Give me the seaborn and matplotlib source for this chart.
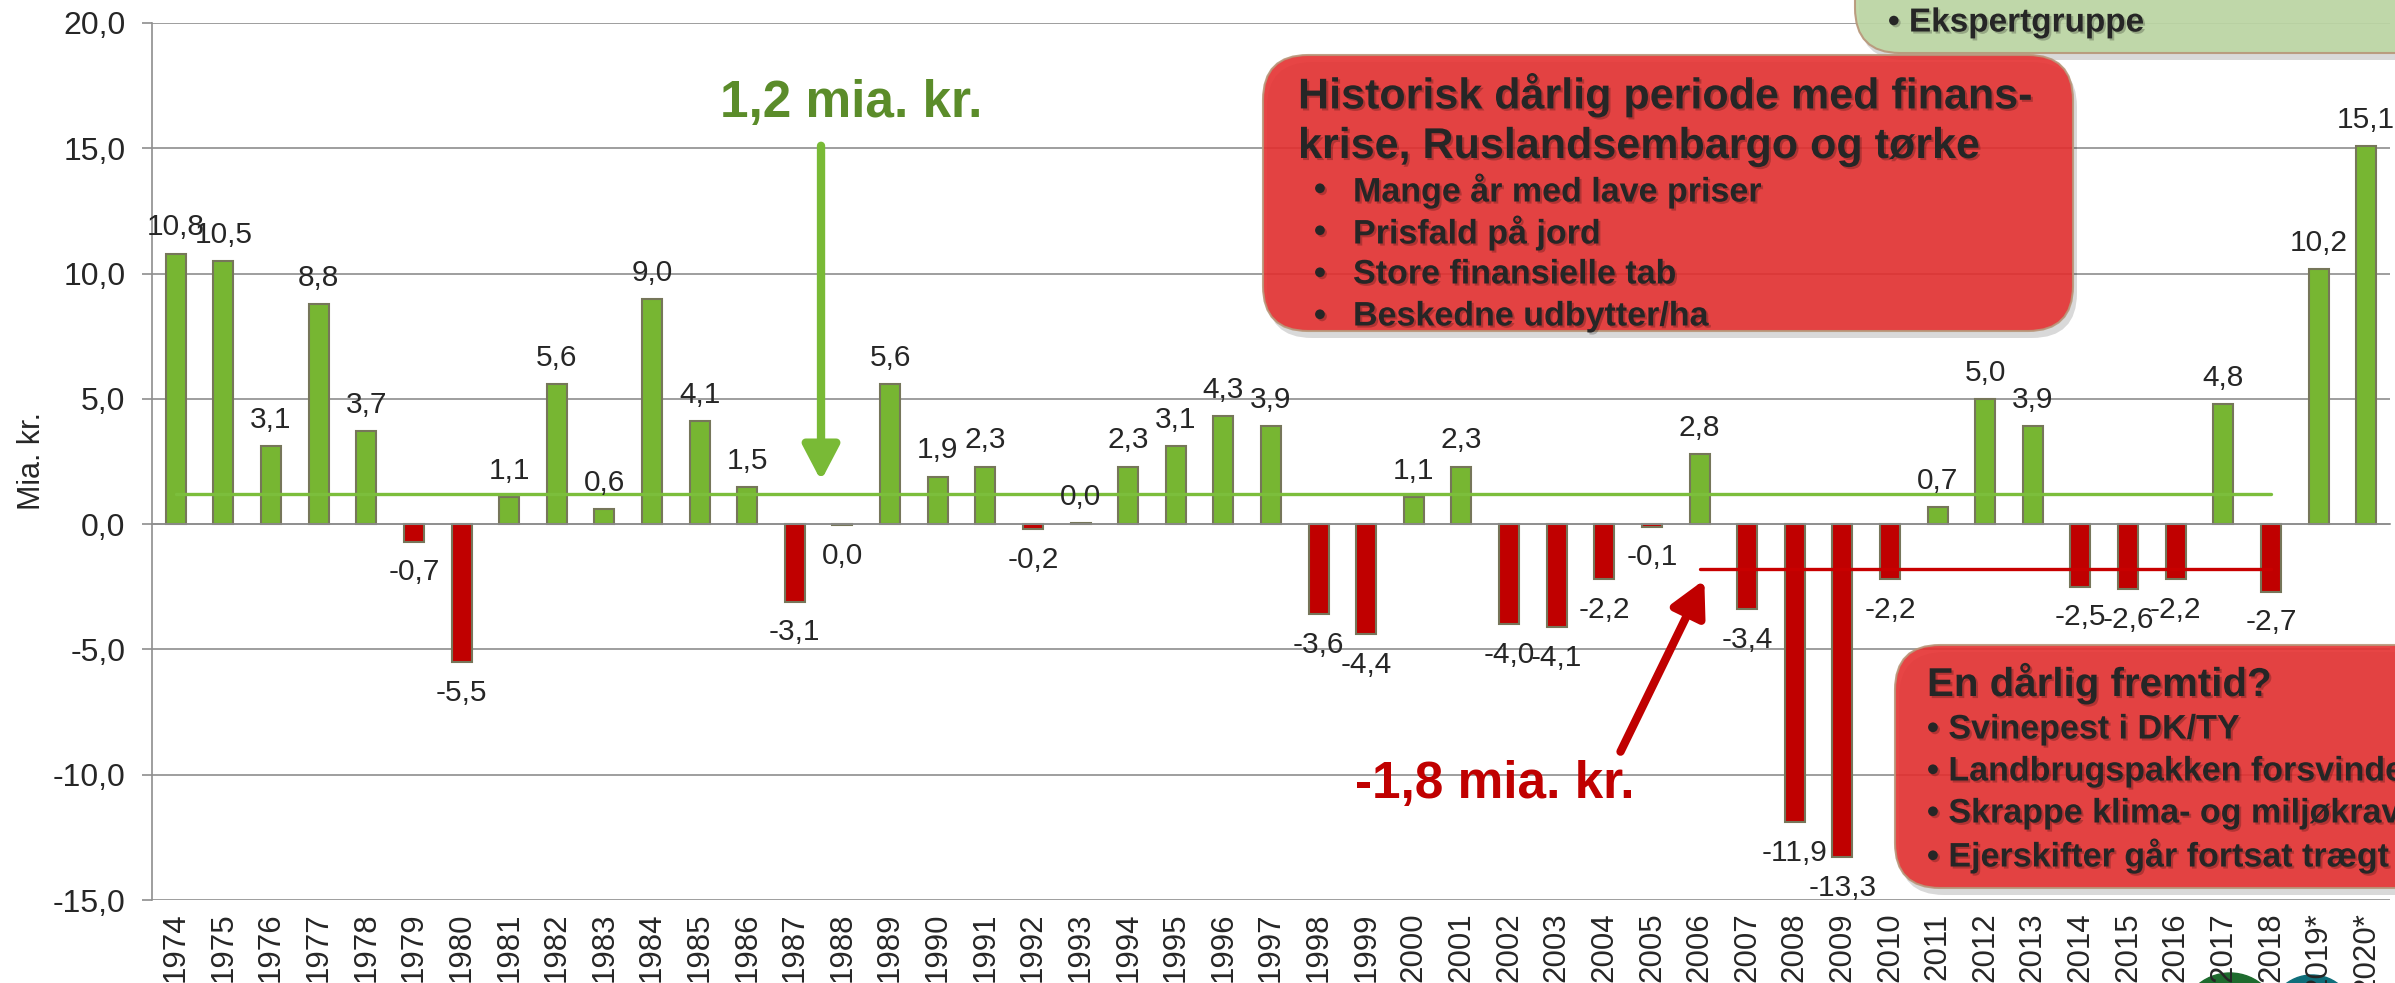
import numpy as np
import pandas as pd
import seaborn as sns
import matplotlib.pyplot as plt
from matplotlib.patches import FancyBboxPatch, Circle
from matplotlib.transforms import IdentityTransform
from matplotlib import patheffects as pe

# data (mia. kr.)
years = [str(y) for y in range(1974, 2019)] + ["2019*", "2020*"]
values = [10.8, 10.5, 3.1, 8.8, 3.7, -0.7, -5.5, 1.1, 5.6, 0.6,
          9.0, 4.1, 1.5, -3.1, -0.04, 5.6, 1.9, 2.3, -0.2, 0.04,
          2.3, 3.1, 4.3, 3.9, -3.6, -4.4, 1.1, 2.3, -4.0, -4.1,
          -2.2, -0.1, 2.8, -3.4, -11.9, -13.3, -2.2, 0.7, 5.0, 3.9,
          -2.5, -2.6, -2.2, 4.8, -2.7, 10.2, 15.1]
avg_all = 1.2          # average 1974-2018
avg_all_years = (years[0], "2018")
avg_recent = -1.8      # average 2006-2018
avg_recent_years = ("2006", "2018")

box1_title = ["Historisk dårlig periode med finans-", "krise, Ruslandsembargo og tørke"]
box1_items = ["Mange år med lave priser", "Prisfald på jord",
              "Store finansielle tab", "Beskedne udbytter/ha"]
box2_title = "En dårlig fremtid?"
box2_items = ["Svinepest i DK/TY", "Landbrugspakken forsvinder",
              "Skrappe klima- og miljøkrav", "Ejerskifter går fortsat trægt"]
box3_items = ["Ekspertgruppe"]

GREEN = "#77B632"
RED = "#C00000"
EDGE = "#76765A"
GRID = "#8E8E8E"

df = pd.DataFrame({"year": years, "value": values})
df["sign"] = np.where(df["value"] >= 0, "pos", "neg")

sns.set_style("white")
plt.rcParams["font.family"] = ["Liberation Sans", "DejaVu Sans"]

W, H = 2395, 983
fig = plt.figure(figsize=(W / 100, H / 100), dpi=100)
ax = fig.add_axes([152 / W, (H - 900) / H, (2390 - 152) / W, (900 - 23) / H])

sns.barplot(data=df, x="year", y="value", hue="sign", order=years,
            palette={"pos": GREEN, "neg": RED}, dodge=False, width=0.42,
            saturation=1, edgecolor=EDGE, linewidth=1.5, errorbar=None,
            legend=False, ax=ax)

# average lines
i0, i1 = years.index(avg_all_years[0]), years.index(avg_all_years[1])
ax.plot([i0, i1], [avg_all, avg_all], color="#7CBE3C", lw=2.4, zorder=4)
j0, j1 = years.index(avg_recent_years[0]), years.index(avg_recent_years[1])
ax.plot([j0, j1], [avg_recent, avg_recent], color="#C80000", lw=2.4, zorder=4)

# value labels
for i, v in enumerate(values):
    lab = f"{v:.1f}".replace(".", ",")
    if lab == "-0,0":
        lab = "0,0"
    if v >= 0:
        ax.annotate(lab, (i, v), xytext=(0, 13), textcoords="offset points",
                    ha="center", va="baseline", fontsize=21.5, zorder=6)
    else:
        ax.annotate(lab, (i, v), xytext=(0, -12), textcoords="offset points",
                    ha="center", va="top", fontsize=21.5, zorder=6)

ax.set_xlim(-0.5, len(years) - 0.5)
ax.set_ylim(-15, 20)
ax.set_yticks(np.arange(-15, 21, 5))
ax.set_yticklabels([f"{t:.1f}".replace(".", ",") for t in np.arange(-15, 21, 5)], fontsize=23)
ax.yaxis.grid(True, color=GRID, lw=1.2)
ax.set_axisbelow(True)

for s in ["top", "right"]:
    ax.spines[s].set_visible(False)
ax.spines["left"].set_color(GRID)
ax.spines["left"].set_linewidth(1.2)
ax.spines["bottom"].set_position(("data", 0))
ax.spines["bottom"].set_color(GRID)
ax.spines["bottom"].set_linewidth(1.2)
ax.set_xticks(np.arange(-0.5, len(years), 1))
ax.set_xticklabels([])
ax.tick_params(axis="x", length=7, width=1.2, color=GRID, direction="out")
ax.tick_params(axis="y", length=7, width=1.2, color=GRID, left=True, pad=12)
ax.set_xlabel("")
ax.set_ylabel("Mia. kr.", fontsize=22)
ax.yaxis.set_label_coords(-0.047, 0.5)

secax = ax.secondary_xaxis(0)
secax.set_xticks(range(len(years)), labels=years, rotation=90, fontsize=22.5)
secax.tick_params(length=0, pad=9)
secax.spines["bottom"].set_visible(False)

# arrows and their texts
ax.annotate("", xy=(13.55, 1.73), xytext=(13.55, 15.1),
            arrowprops=dict(arrowstyle="-|>,head_length=1.05,head_width=0.55",
                            color="#79BA36", lw=6, mutation_scale=20,
                            shrinkA=0, shrinkB=0), zorder=7)
ax.text(14.18, 16.77, "1,2 mia. kr.", color="#5B8C2A", fontsize=37,
        fontweight="bold", ha="center", va="center", zorder=7)
ax.annotate("", xy=(32.1, -2.22), xytext=(30.34, -9.08),
            arrowprops=dict(arrowstyle="-|>,head_length=1.05,head_width=0.55",
                            color="#C00000", lw=6, mutation_scale=20,
                            shrinkA=0, shrinkB=0), zorder=7)
ax.text(27.69, -10.4, "-1,8 mia. kr.", color="#C00000", fontsize=37,
        fontweight="bold", ha="center", va="center", zorder=7)

# callout boxes (pixel coordinates, y from top)
px = IdentityTransform()


def box(x0, y0, x1, y1, face, alpha, r=45):
    sh = FancyBboxPatch((x0 + 4, H - y1 - 7), x1 - x0, y1 - y0,
                        boxstyle=f"round,pad=0,rounding_size={r}",
                        transform=px, facecolor="black", edgecolor="none",
                        alpha=0.15, zorder=8)
    fig.patches.append(sh)
    b = FancyBboxPatch((x0, H - y1), x1 - x0, y1 - y0,
                       boxstyle=f"round,pad=0,rounding_size={r}",
                       transform=px, facecolor=face, edgecolor="#B8977A",
                       lw=1.5, alpha=alpha, zorder=9)
    fig.patches.append(b)


shadow = [pe.withSimplePatchShadow(offset=(1.5, -1.5), shadow_rgbFace="black", alpha=0.22)]


def ftext(x, y, s, size):
    fig.text(x / W, 1 - y / H, s, fontsize=size, fontweight="bold", ha="left",
             va="center", zorder=10, path_effects=shadow)


box(1855, -80, 2500, 53, "#BDD7A5", 0.92)
for k, s in enumerate(box3_items):
    ftext(1888, 23 + 42 * k, "• " + s, 24)

box(1263, 55, 2073, 331, "#E53131", 0.9)
for k, s in enumerate(box1_title):
    ftext(1298, 95 + 52 * k, s, 31)
for k, s in enumerate(box1_items):
    ftext(1314, 191 + 42 * k, "•", 24.5)
    ftext(1353, 191 + 42 * k, s, 24.5)

box(1895, 645, 2500, 888, "#E53131", 0.9)
ftext(1927, 683, box2_title, 29)
for k, s in enumerate(box2_items):
    ftext(1927, 730 + 42 * k, "• " + s, 24.5)

# logos peeking in at the bottom edge
for cx, cy, r, c in [(2230, 1023, 50, "#1E6B2E"), (2312, 1018, 43, "#0F6E7A")]:
    fig.patches.append(Circle((cx, H - cy), r, transform=px, color=c, zorder=-1))

fig.savefig("out.png", dpi=100)
